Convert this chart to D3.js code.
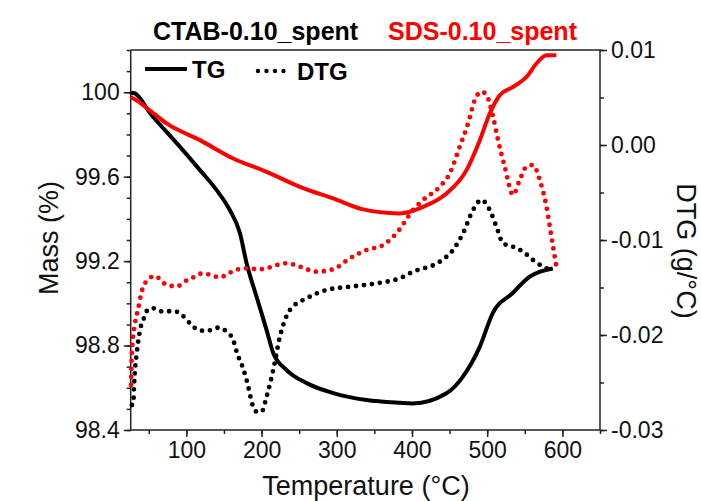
<!DOCTYPE html>
<html>
<head>
<meta charset="utf-8">
<script src="https://cdn.jsdelivr.net/npm/d3@7"></script>
<style>
  body { margin: 0; background: #fff; }
  text { font-family: "Liberation Sans", Arial, sans-serif; }
</style>
</head>
<body>
<script>
// CTAB-0.10_spent, TG (mass %)
const ctabTgTemp = [26, 28.7, 53.9, 91.5, 118.1, 140.3, 157.9, 171.2, 180.1, 193.4, 206.7, 215.5, 233.3, 259.9, 295.2, 339.6, 383.8, 401, 445.9, 467.5, 490.1, 507.4, 534, 556.6, 587.2];
const ctabTgMass = [99.99, 99.997, 99.891, 99.741, 99.631, 99.536, 99.441, 99.333, 99.19, 99.031, 98.873, 98.765, 98.684, 98.622, 98.575, 98.542, 98.529, 98.526, 98.574, 98.652, 98.794, 98.954, 99.049, 99.126, 99.165];

// SDS-0.10_spent, TG (mass %)
const sdsTgTemp = [26, 29.5, 53.9, 73.8, 118.1, 162.3, 206.7, 251, 295.2, 335.1, 366.2, 383.8, 414.8, 445.9, 472.5, 490.2, 503.4, 516.7, 534.4, 552.2, 565.5, 578.8, 592];
const sdsTgMass = [99.976, 99.97, 99.907, 99.852, 99.773, 99.686, 99.623, 99.552, 99.497, 99.445, 99.429, 99.426, 99.457, 99.52, 99.631, 99.773, 99.899, 99.986, 100.025, 100.072, 100.136, 100.175, 100.175];

// CTAB-0.10_spent, DTG (g/°C)
const ctabDtgTemp = [27.7, 29.5, 30.4, 31.7, 34, 38.4, 42.7, 49.4, 56, 69.3, 82.6, 91.5, 104.8, 115.8, 127, 142.4, 153.6, 162.3, 169, 171.2, 180.1, 188.9, 193.4, 200, 206.7, 215.5, 224.4, 237.7, 259.9, 286.4, 317.4, 352.9, 383.8, 401.5, 437, 454.6, 467.9, 481.2, 492.4, 503.4, 512.3, 521.1, 534.4, 547.7, 561, 574.2, 585.4];
const ctabDtg = [-0.02737, -0.02719, -0.02544, -0.02368, -0.02193, -0.01947, -0.01842, -0.01729, -0.01719, -0.01755, -0.01747, -0.01772, -0.01877, -0.01947, -0.01958, -0.01923, -0.01965, -0.02053, -0.02228, -0.02263, -0.02474, -0.02755, -0.02807, -0.02807, -0.02649, -0.02368, -0.02018, -0.01737, -0.01614, -0.01526, -0.01492, -0.01456, -0.01403, -0.01334, -0.01228, -0.01105, -0.00929, -0.00684, -0.00579, -0.00684, -0.0086, -0.01035, -0.01071, -0.01123, -0.01211, -0.01281, -0.01316];

// SDS-0.10_spent, DTG (g/°C)
const sdsDtgTemp = [26.4, 27.3, 28.7, 31.7, 36.1, 40.6, 49.4, 58.3, 71.6, 80.5, 89.2, 95.9, 107, 122.5, 135.8, 144.7, 157.9, 169, 175.6, 197.8, 233.3, 251, 273.1, 295.2, 317.4, 339.6, 361.6, 379.4, 401.5, 414.8, 437, 450.3, 463.5, 474.6, 483.5, 492.4, 499, 507.8, 514.4, 523.3, 534.4, 543.3, 552.2, 561, 569.9, 578.8, 585.4, 592];
const sdsDtg = [-0.02526, -0.02228, -0.02053, -0.01877, -0.01719, -0.01544, -0.01414, -0.01379, -0.01463, -0.01484, -0.01484, -0.01445, -0.01403, -0.0135, -0.01379, -0.01393, -0.01344, -0.01308, -0.01297, -0.01308, -0.01245, -0.01281, -0.01334, -0.01308, -0.01193, -0.01105, -0.01053, -0.00929, -0.00684, -0.00579, -0.00439, -0.00298, -0.00018, 0.00228, 0.00474, 0.00561, 0.00526, 0.00298, 0.00053, -0.00228, -0.00526, -0.00368, -0.00228, -0.00211, -0.00368, -0.00649, -0.00965, -0.01281];

const tempTicks = [100, 200, 300, 400, 500, 600];
const tempTickLabels = ["100", "200", "300", "400", "500", "600"];
const massTicks = [98.4, 98.8, 99.2, 99.6, 100];
const massTickLabels = ["98.4", "98.8", "99.2", "99.6", "100"];
const dtgTicks = [-0.03, -0.02, -0.01, 0, 0.01];
const dtgTickLabels = ["-0.03", "-0.02", "-0.01", "0.00", "0.01"];

const width = 701;
const height = 501;
const plotLeft = 130.7, plotRight = 600, plotTop = 50, plotBottom = 430;

let svg = d3.select('body')
            .append('svg')
            .attr('width', width)
            .attr('height', height);

const x = d3.scaleLinear().domain([26, 650]).range([plotLeft, plotRight]);
const yMass = d3.scaleLinear().domain([98.4, 100.2]).range([plotBottom, plotTop]);
const yDtg = d3.scaleLinear().domain([-0.03, 0.01]).range([plotBottom, plotTop]);

const axisColor = '#222';

// minor ticks first, then major axes on top
svg.append('g')
   .attr('transform', `translate(0,${plotBottom})`)
   .call(d3.axisBottom(x).tickValues(d3.range(50, 651, 50)).tickSize(4).tickFormat(''));
svg.append('g')
   .attr('transform', `translate(${plotLeft},0)`)
   .call(d3.axisLeft(yMass).tickValues(d3.range(0, 19).map(i => 98.4 + i * 0.1)).tickSize(4).tickFormat(''));
svg.append('g')
   .attr('transform', `translate(${plotRight},0)`)
   .call(d3.axisRight(yDtg).tickValues(d3.range(0, 9).map(i => -0.03 + i * 0.005)).tickSize(4).tickFormat(''));

svg.append('g')
   .attr('transform', `translate(0,${plotBottom})`)
   .call(d3.axisBottom(x).tickValues(tempTicks).tickSize(7).tickPadding(5)
         .tickFormat((d, i) => tempTickLabels[i]));
svg.append('g')
   .attr('transform', `translate(${plotLeft},0)`)
   .call(d3.axisLeft(yMass).tickValues(massTicks).tickSize(7).tickPadding(4)
         .tickFormat((d, i) => massTickLabels[i]));
svg.append('g')
   .attr('transform', `translate(${plotRight},0)`)
   .call(d3.axisRight(yDtg).tickValues(dtgTicks).tickSize(7).tickPadding(4)
         .tickFormat((d, i) => dtgTickLabels[i]));

svg.selectAll('.domain').remove();
svg.selectAll('.tick line').attr('stroke', axisColor).attr('stroke-width', 1.5);
svg.selectAll('.tick text').attr('font-size', 23).attr('fill', '#111')
   .attr('font-family', '"Liberation Sans", Arial, sans-serif');

// frame: left, bottom, right, top
svg.append('path')
   .attr('d', `M${plotLeft},${plotTop}V${plotBottom}H${plotRight}V${plotTop}H${plotLeft}`)
   .attr('fill', 'none')
   .attr('stroke', axisColor)
   .attr('stroke-width', 1.5);

function lineFor(xs, ys, yScale) {
    const pts = xs.map((t, i) => [t, ys[i]]);
    return d3.line()
             .x(d => x(d[0]))
             .y(d => yScale(d[1]))
             .curve(d3.curveMonotoneX)(pts);
}

function drawSolid(xs, ys, yScale, color) {
    svg.append('path')
       .attr('d', lineFor(xs, ys, yScale))
       .attr('fill', 'none')
       .attr('stroke', color)
       .attr('stroke-width', 4)
       .attr('stroke-linejoin', 'round');
}

function drawDotted(xs, ys, yScale, color) {
    svg.append('path')
       .attr('d', lineFor(xs, ys, yScale))
       .attr('fill', 'none')
       .attr('stroke', color)
       .attr('stroke-width', 4.8)
       .attr('stroke-linecap', 'round')
       .attr('stroke-dasharray', '0 8');
}

drawSolid(ctabTgTemp, ctabTgMass, yMass, '#000');
drawSolid(sdsTgTemp, sdsTgMass, yMass, '#f00');
drawDotted(ctabDtgTemp, ctabDtg, yDtg, '#000');
drawDotted(sdsDtgTemp, sdsDtg, yDtg, '#f00');

// titles
svg.append('text').attr('x', 153).attr('y', 40)
   .attr('font-size', 25).attr('font-weight', 'bold').attr('fill', '#000')
   .text('CTAB-0.10_spent');
svg.append('text').attr('x', 388).attr('y', 40)
   .attr('font-size', 25).attr('font-weight', 'bold').attr('fill', '#f00')
   .text('SDS-0.10_spent');

// legend
svg.append('line').attr('x1', 145).attr('x2', 187).attr('y1', 69).attr('y2', 69)
   .attr('stroke', '#000').attr('stroke-width', 4);
svg.append('text').attr('x', 192).attr('y', 78)
   .attr('font-size', 24).attr('font-weight', 'bold').text('TG');
svg.append('line').attr('x1', 258).attr('x2', 292).attr('y1', 71).attr('y2', 71)
   .attr('stroke', '#000').attr('stroke-width', 4.4)
   .attr('stroke-linecap', 'round').attr('stroke-dasharray', '0 8.5');
svg.append('text').attr('x', 297).attr('y', 80)
   .attr('font-size', 24).attr('font-weight', 'bold').text('DTG');

// axis titles
svg.append('text').attr('x', 366).attr('y', 495)
   .attr('text-anchor', 'middle').attr('font-size', 27).attr('fill', '#111')
   .text('Temperature (°C)');
svg.append('text')
   .attr('transform', 'translate(58,238) rotate(-90)')
   .attr('text-anchor', 'middle').attr('font-size', 27).attr('fill', '#111')
   .text('Mass (%)');
svg.append('text')
   .attr('transform', 'translate(677,251) rotate(90)')
   .attr('text-anchor', 'middle').attr('font-size', 27).attr('fill', '#111')
   .text('DTG (g/°C)');
</script>
</body>
</html>
